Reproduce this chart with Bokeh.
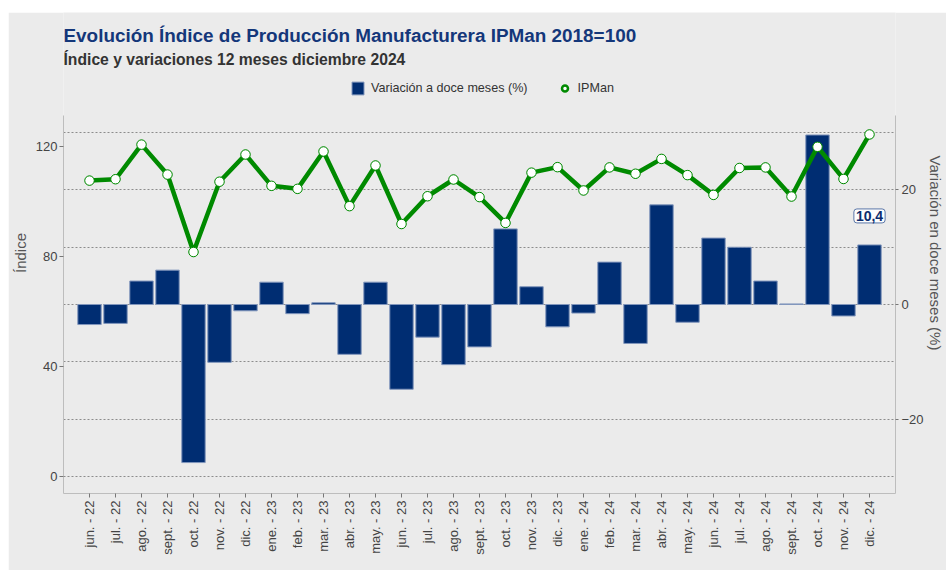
import numpy as np
from bokeh.plotting import figure
from bokeh.models import (Range1d, LinearAxis, FixedTicker, Grid, Label, Legend,
                          LegendItem, ColumnDataSource)
from bokeh.embed import file_html
from bokeh.resources import INLINE

# ---------------- data ----------------
months = ["jun. - 22", "jul. - 22", "ago. - 22", "sept. - 22", "oct. - 22", "nov. - 22", "dic. - 22",
          "ene. - 23", "feb. - 23", "mar. - 23", "abr. - 23", "may. - 23", "jun. - 23", "jul. - 23",
          "ago. - 23", "sept. - 23", "oct. - 23", "nov. - 23", "dic. - 23",
          "ene. - 24", "feb. - 24", "mar. - 24", "abr. - 24", "may. - 24", "jun. - 24", "jul. - 24",
          "ago. - 24", "sept. - 24", "oct. - 24", "nov. - 24", "dic. - 24"]

variacion = [-3.5, -3.3, 4.1, 6.0, -27.6, -10.1, -1.1,
             3.9, -1.6, 0.3, -8.7, 3.9, -14.8, -5.7,
             -10.5, -7.4, 13.2, 3.1, -3.9,
             -1.5, 7.4, -6.8, 17.4, -3.1, 11.6, 10.0,
             4.1, 0.1, 29.6, -2.0, 10.4]

ipman = [107.6, 108.1, 120.7, 109.8, 81.6, 107.2, 117.1,
         105.7, 104.6, 118.2, 98.3, 113.1, 91.8, 101.9,
         108.0, 101.6, 92.2, 110.5, 112.5,
         104.0, 112.4, 110.1, 115.5, 109.6, 102.4, 112.2,
         112.4, 101.8, 119.9, 108.2, 124.4]

left_ticks = [0, 40, 80, 120]
right_ticks = [-20, 0, 20]
grid_ticks = [-30, -20, -10, 0, 10, 20, 30]

title_text = "Evolución Índice de Producción Manufacturera IPMan 2018=100"
subtitle_text = "Índice y variaciones 12 meses diciembre 2024"
bar_label = "Variación a doce meses (%)"
line_label = "IPMan"

# ---------------- styling ----------------
FONT = "Liberation Sans"
BG = "#EBEBEB"
NAVY = "#002D72"
GREEN = "#008A00"
AXIS_COL = "#BDBDBD"
TICK_TXT = "#444444"

W, H = 938, 558
MB_L, MB_R, MB_B = 54, 49, 77
FH = H - MB_B            # frame spans the whole height above the x axis
HEADER = 103             # pixels of header area above the chart region

# visible value ranges of the chart region
L_LO, L_HI = -6.3, 131.3
R_LO, R_HI = -33.0, 33.0
chart_h = FH - HEADER
L_TOP = L_HI + HEADER * (L_HI - L_LO) / chart_h
R_TOP = R_HI + HEADER * (R_HI - R_LO) / chart_h

x = list(range(len(months)))
src = ColumnDataSource(data=dict(x=x, var=variacion, ip=ipman))

p = figure(width=W, height=H, output_backend="svg", toolbar_location=None, title=None,
           margin=(12, 0, 0, 8),
           x_range=Range1d(-1, len(months)), y_range=Range1d(L_LO, L_TOP),
           min_border_left=MB_L, min_border_right=MB_R, min_border_top=0,
           min_border_bottom=MB_B, background_fill_color=BG, border_fill_color=BG,
           outline_line_color=None)
p.extra_y_ranges = {"pct": Range1d(R_LO, R_TOP)}
p.xgrid.visible = False
p.ygrid.visible = False

grid = Grid(dimension=1, ticker=FixedTicker(ticks=grid_ticks), y_range_name="pct",
            grid_line_color="#8C8C8C", grid_line_dash="2 2", grid_line_width=1)
p.add_layout(grid)

# axes
xa = p.xaxis[0]
xa.ticker = FixedTicker(ticks=x)
xa.major_label_overrides = {i: m for i, m in enumerate(months)}
xa.major_label_orientation = np.pi / 2
xa.major_label_standoff = 3
xa.minor_tick_line_color = None
xa.major_tick_in = 0
xa.major_tick_out = 4

ya = p.yaxis[0]
ya.ticker = FixedTicker(ticks=left_ticks)
ya.bounds = (L_LO, L_HI)
ya.axis_label = "Índice"
ya.minor_tick_line_color = None
ya.major_tick_in = 0
ya.major_tick_out = 4
ya.major_label_standoff = 2
ya.axis_label_standoff = 4

ra = LinearAxis(y_range_name="pct", ticker=FixedTicker(ticks=right_ticks),
                bounds=(R_LO, R_HI), axis_label="Variación en doce meses (%)")
ra.minor_tick_line_color = None
ra.major_tick_in = 0
ra.major_tick_out = 3
ra.major_label_standoff = 3
ra.axis_label_standoff = 0
p.add_layout(ra, "right")

for ax in (xa, ya, ra):
    ax.axis_line_color = AXIS_COL
    ax.major_tick_line_color = "#777777"
    ax.major_label_text_font = FONT
    ax.major_label_text_font_size = "13px"
    ax.major_label_text_color = TICK_TXT
    ax.axis_label_text_font = FONT
    ax.axis_label_text_font_size = "15px"
    ax.axis_label_text_font_style = "normal"
    ax.axis_label_text_color = "#555555"

# bars
bars = p.vbar(x="x", top="var", bottom=0, width=0.9, source=src, y_range_name="pct",
              fill_color=NAVY, line_color="#8196BC", line_width=1)

# legend swatch for IPMan: drawn beneath the real markers (hidden there)
leg_marker = p.scatter(x="x", y="ip", source=src, size=7, marker="circle",
                       fill_color="white", line_color=GREEN, line_width=2.5)

# line + markers
p.line(x="x", y="ip", source=src, line_color=GREEN, line_width=4.5)
p.scatter(x="x", y="ip", source=src, size=9.5, marker="circle",
          fill_color="white", line_color=GREEN, line_width=1)

legend = Legend(items=[LegendItem(label=bar_label, renderers=[bars]),
                       LegendItem(label=line_label, renderers=[leg_marker])],
                location=(287, FH - 84), orientation="horizontal",
                background_fill_alpha=0, border_line_alpha=0,
                padding=0, margin=0, spacing=29, label_standoff=6,
                glyph_width=15, glyph_height=16,
                label_text_font=FONT, label_text_font_size="12.6px",
                label_text_color="#333333")
p.add_layout(legend)

# titles (screen units inside the frame, measured from its bottom)
p.add_layout(Label(x=0, y=FH - 23, x_units="screen", y_units="screen", text=title_text,
                   text_align="left", text_baseline="middle", text_font=FONT,
                   text_font_size="18.9px", text_font_style="bold", text_color="#14377A"))
p.add_layout(Label(x=0, y=FH - 46.5, x_units="screen", y_units="screen", text=subtitle_text,
                   text_align="left", text_baseline="middle", text_font=FONT,
                   text_font_size="15.7px", text_font_style="bold", text_color="#333333"))

# last value annotation
last_txt = f"{variacion[-1]:.1f}".replace(".", ",")
p.add_layout(Label(x=x[-1], y=variacion[-1], y_range_name="pct", text=last_txt,
                   y_offset=29, text_align="center", text_baseline="middle",
                   text_font=FONT, text_font_size="14px", text_font_style="bold",
                   text_color="#0B2C6E", background_fill_color="white",
                   background_fill_alpha=0.9, border_line_color="#5A76A8",
                   border_line_width=1, padding=2, border_radius=3))

open("out.html", "w").write(file_html(p, INLINE))
